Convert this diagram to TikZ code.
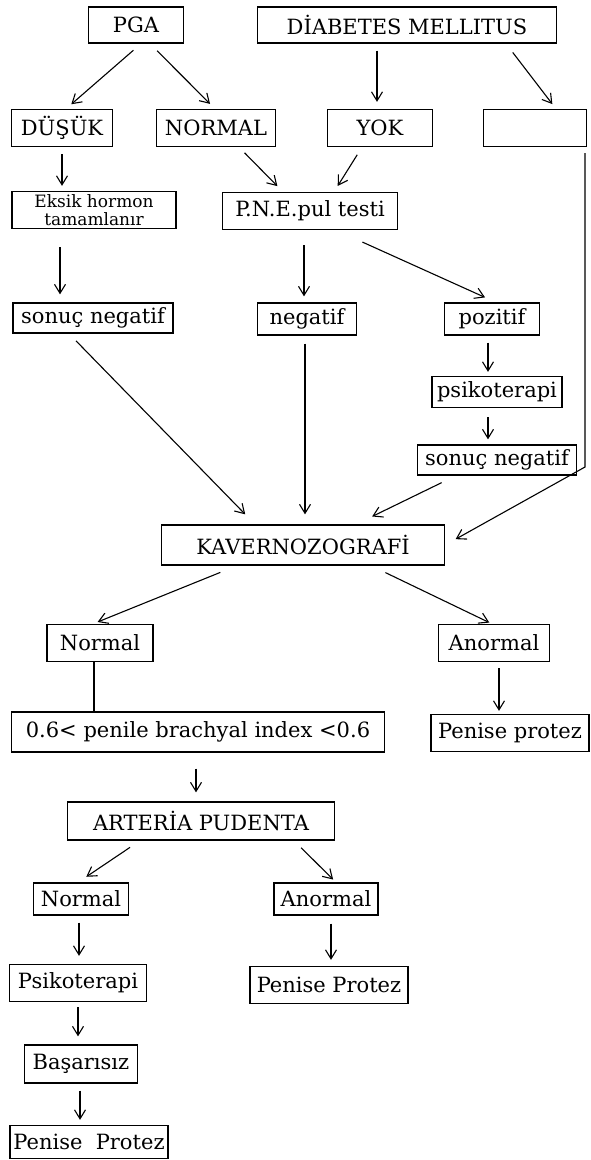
\documentclass[tikz,border=0pt]{standalone}
\usepackage{fontspec}
\setmainfont{DejaVu Serif}
\usetikzlibrary{arrows.meta}

\tikzset{
    box/.style 2 args={draw, line width=1.3pt, inner sep=0pt, align=center,
        minimum width=#1, minimum height=#2, font=\fontsize{21}{23}\selectfont},
    arr/.style={-{Straight Barb[length=9pt,width=11pt]}, line width=1.1pt,
        shorten <=7pt, shorten >=5pt},
}

\begin{document}
\begin{tikzpicture}[x=1pt, y=-1pt]
    \useasboundingbox (0,0) rectangle (590,1160);

    % Top row
    \node[box={95}{36}] (pga) at (136,25) {PGA};
    \node[box={299}{36}] (dm) at (407,25) {DİABETES MELLITUS};

    % Second row
    \node[box={101}{37}] (dusuk) at (62,128) {DÜŞÜK};
    \node[box={119}{37}] (normal) at (216,128) {NORMAL};
    \node[box={105}{37}] (yok) at (380,128) {YOK};
    \node[box={103}{37}] (bos) at (535,128) {};

    % Tests
    \node[box={164}{37}, font=\fontsize{17}{18}\selectfont] (eksik) at (94,210) {Eksik hormon\\tamamlanır};
    \node[box={175}{37}] (pne) at (310,211) {P.N.E.pul testi};
    \node[box={160}{30}] (sonucL) at (93,318) {sonuç negatif};
    \node[box={99}{32}] (negatif) at (307,319) {negatif};
    \node[box={95}{32}] (pozitif) at (492,319) {pozitif};
    \node[box={130}{31}] (psiko) at (497,392) {psikoterapi};
    \node[box={159}{30}] (sonucR) at (497,460) {sonuç negatif};

    % Kavernozografi
    \node[box={283}{40}] (kav) at (303,545) {KAVERNOZOGRAFİ};
    \node[box={106}{37}] (normalA) at (100,643) {Normal};
    \node[box={111}{37}] (anormalA) at (494,643) {Anormal};
    \node[box={373}{40}] (index) at (198,732) {0.6< penile brachyal index <0.6};
    \node[box={158}{37}] (protezA) at (510,733) {Penise protez};

    % Arteria pudenta
    \node[box={267}{38}] (arteria) at (201,821) {ARTERİA PUDENTA};
    \node[box={95}{32}] (normalB) at (81,899) {Normal};
    \node[box={104}{32}] (anormalB) at (326,899) {Anormal};
    \node[box={137}{37}] (psikoB) at (78,983) {Psikoterapi};
    \node[box={158}{37}] (protezB) at (329,985) {Penise Protez};
    \node[box={113}{38}] (basarisiz) at (81,1064) {Başarısız};
    \node[box={158}{33}] (protezC) at (89,1142) {Penise\ \ Protez};

    % Arrows from the top row
    \draw[arr, shorten <=10pt, shorten >=7pt] ([xshift=5pt]pga.south) -- ([xshift=4pt]dusuk.north);
    \draw[arr, shorten <=10pt, shorten >=7pt] ([xshift=14pt]pga.south) -- ([xshift=-1pt]normal.north);
    \draw[arr, shorten >=7pt] ([xshift=-30pt]dm.south) -- ([xshift=-3pt]yok.north);
    \draw[arr, shorten <=11pt, shorten >=6pt] ([xshift=99pt]dm.south) -- ([xshift=21pt]bos.north);

    % Second row to tests
    \draw[arr] (dusuk.south) -- ([xshift=-32pt]eksik.north);
    \draw[arr, shorten <=8pt, shorten >=8pt] ([xshift=23pt]normal.south) -- ([xshift=-27pt]pne.north);
    \draw[arr, shorten <=9pt, shorten >=7pt] ([xshift=-18pt]yok.south) -- ([xshift=24pt]pne.north);
    \draw[arr, shorten <=18pt, shorten >=8pt] ([xshift=-34pt]eksik.south) -- ([xshift=-33pt]sonucL.north);
    \draw[arr, shorten <=15pt, shorten >=6pt] ([xshift=-6pt]pne.south) -- ([xshift=-3pt]negatif.north);
    \draw[arr, shorten <=29pt, shorten >=12pt] ([xshift=26pt]pne.south) -- ([xshift=4pt]pozitif.north);
    \draw[arr, shorten >=4pt] ([xshift=-4pt]pozitif.south) -- ([xshift=-9pt]psiko.north);
    \draw[arr, shorten <=9pt] ([xshift=-9pt]psiko.south) -- ([xshift=-9pt]sonucR.north);

    % Into Kavernozografi
    \coordinate (knee) at (585,467);
    \draw[arr, shorten <=6pt, shorten >=12pt] (bos.south east -| knee) -- (knee) -- (kav.east);
    \draw[arr, shorten <=10pt, shorten >=14pt] ([xshift=-24pt]sonucL.south) -- ([xshift=-48pt]kav.north);
    \draw[arr, shorten <=8pt, shorten >=10pt] ([xshift=-2pt]negatif.south) -- ([xshift=2pt]kav.north);
    \draw[arr, shorten <=16pt, shorten >=18pt] ([xshift=-41pt]sonucR.south) -- ([xshift=53pt]kav.north);

    % Out of Kavernozografi
    \draw[arr, shorten <=18pt] ([xshift=-66pt]kav.south) -- ([xshift=-7pt]normalA.north);
    \draw[arr, shorten <=16pt, shorten >=3pt] ([xshift=68pt]kav.south) -- ([xshift=-2pt]anormalA.north);
    \draw[line width=1.1pt] ([xshift=-6pt]normalA.south) -- ([xshift=-6pt]normalA.south |- index.north);
    \draw[arr, shorten <=6pt, shorten >=3pt] ([xshift=5pt]anormalA.south) -- ([xshift=-11pt]protezA.north);
    \draw[arr, shorten <=16pt, shorten >=9pt] ([xshift=-2pt]index.south) -- ([xshift=-5pt]arteria.north);

    % Out of Arteria pudenta
    \draw[arr, shorten <=12pt, shorten >=10pt] ([xshift=-61pt]arteria.south) -- ([xshift=-3pt]normalB.north);
    \draw[arr, shorten <=10pt, shorten >=4pt] ([xshift=93pt]arteria.south) -- ([xshift=10pt]anormalB.north);
    \draw[arr, shorten >=8pt] ([xshift=-2pt]normalB.south) -- ([xshift=1pt]psikoB.north);
    \draw[arr, shorten <=8pt, shorten >=6pt] ([xshift=5pt]anormalB.south) -- ([xshift=2pt]protezB.north);
    \draw[arr, shorten <=5pt, shorten >=8pt] (psikoB.south) -- ([xshift=-3pt]basarisiz.north);
    \draw[arr] ([xshift=-1pt]basarisiz.south) -- ([xshift=-9pt]protezC.north);
\end{tikzpicture}
\end{document}
